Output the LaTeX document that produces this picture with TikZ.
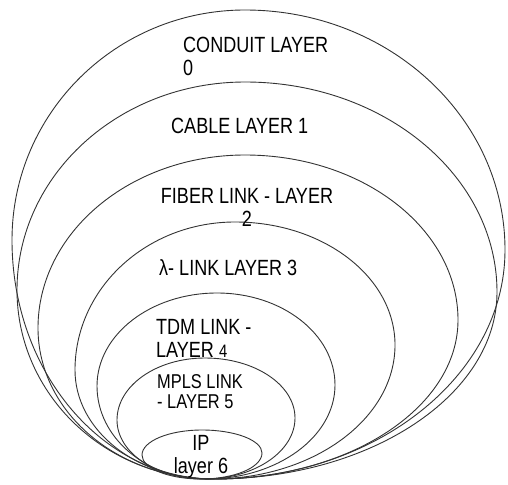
\documentclass[tikz,border=0pt]{standalone}
\usepackage{fontspec}
\newfontfamily\condfont[FakeStretch=0.82]{Liberation Sans}
\tikzset{
  layerline/.style={draw=black!80, line width=0.9pt},
  lbl/.style={font=\condfont\fontsize{22}{23}\selectfont, inner sep=0pt, align=left},
  lblc/.style={font=\condfont\fontsize{22}{23}\selectfont, inner sep=0pt, align=center},
  lbls/.style={font=\condfont\fontsize{20}{20}\selectfont, inner sep=0pt, align=left},
}
% egg-shaped closed curve: bottom (#1,#2), left (#3,#4), top (#5,#6), right (#7,#8)
\newcommand{\eggpath}[8]{%
  \draw[layerline] (#1,#2)
    .. controls ({#1-0.5523*(#1-#3)},#2) and (#3,{#4+0.5523*(#2-#4)}) .. (#3,#4)
    .. controls (#3,{#4-0.5523*(#4-#6)}) and ({#5-0.5523*(#5-#3)},#6) .. (#5,#6)
    .. controls ({#5+0.5523*(#7-#5)},#6) and (#7,{#8-0.5523*(#8-#6)}) .. (#7,#8)
    .. controls (#7,{#8+0.5523*(#2-#8)}) and ({#1+0.5523*(#7-#1)},#2) .. cycle;}
\begin{document}
\begin{tikzpicture}[x=1pt,y=-1pt]
\useasboundingbox (0,0) rectangle (508,484);
% nested layers
\eggpath{214}{479}{12}{240}{245}{10}{505}{250}
\eggpath{214}{479}{17}{290}{245}{82}{497}{292}
\eggpath{214}{479}{38}{328}{245}{155}{458}{320}
\eggpath{212}{479}{75}{370}{235}{222}{395}{345}
\eggpath{206}{479}{97}{386}{217}{293}{335}{385}
\eggpath{204}{479}{117}{420}{205}{358}{295}{418}
\eggpath{201}{479}{142}{455}{202}{430}{262}{453}
% labels
\node[lbl, anchor=base west] (l0) at (183,76) {CONDUIT LAYER\\0};
\node[lbl, anchor=base west] (l1) at (171,133) {CABLE LAYER 1};
\node[lblc, anchor=base] (l2) at (247,226) {FIBER LINK - LAYER\\2};
\node[lbl, anchor=base west] (l3) at (159,275) {λ- LINK LAYER 3};
\node[lbl, anchor=base west] (l4) at (156,357) {TDM LINK -\\LAYER {\fontsize{18}{18}\selectfont 4}};
\node[lbls, anchor=base west] (l5) at (157,408) {MPLS LINK\\- LAYER 5};
\node[lblc, anchor=base] (l6) at (201,473) {IP\\layer 6};
\end{tikzpicture}
\end{document}
